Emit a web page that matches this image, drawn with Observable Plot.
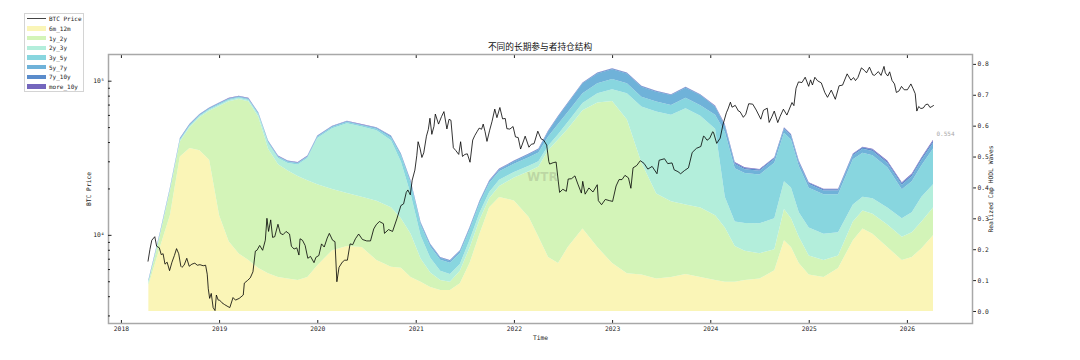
<!DOCTYPE html>
<html><head><meta charset="utf-8">
<script src="https://cdn.jsdelivr.net/npm/d3@7"></script>
<script src="https://cdn.jsdelivr.net/npm/@observablehq/plot@0.6"></script>
<style>
html,body{margin:0;padding:0;background:#fff;}
#wrap{position:relative;width:1080px;height:360px;overflow:hidden;background:#fff;}
#wrap svg{position:absolute;left:0;top:0;}
#title{position:absolute;left:0;width:1080px;top:40px;text-align:center;font:8.7px "Noto Sans CJK SC";color:#111;}
#legend{position:absolute;left:24px;top:13px;width:60px;height:79px;border:1px solid #d4d4d4;box-sizing:border-box;background:#fff;font:6px "DejaVu Sans Mono";color:#222;white-space:nowrap;}
.row{height:9.67px;display:flex;align-items:center;white-space:nowrap;}
.sw{width:19px;height:4.5px;margin-left:2px;margin-right:3px;flex:none;}
.ln{width:19px;height:0;border-top:1px solid #444;margin-left:2px;margin-right:3px;flex:none;}
#wm{position:absolute;left:527px;top:170px;font:bold 12px "DejaVu Sans";color:rgba(120,125,105,0.25);}
</style></head><body>
<div id="wrap">
  <div id="title"></div>
  <div id="wm">WTR</div>
  <div id="legend"></div>
</div>
<script>
// ---------- data ----------
const chartTitle = "不同的长期参与者持仓结构";
const layers = ["6m_12m","1y_2y","2y_3y","3y_5y","5y_7y","7y_10y","more_10y"];
const layerColors = ["#faf5b7","#d3f4b8","#b3eedb","#88d6df","#6fb2d9","#5a8ccb","#7466bd"];

const waveDates = [
"2018-04-13","2018-05-27","2018-07-02","2018-08-08","2018-09-13","2018-10-20","2018-11-25",
"2019-01-01","2019-02-06","2019-03-15","2019-04-20","2019-05-27","2019-07-02","2019-08-08","2019-09-13","2019-10-20","2019-11-25",
"2020-01-01","2020-02-25","2020-04-20","2020-06-14","2020-08-08","2020-10-01","2020-11-07","2020-12-13",
"2021-01-19","2021-02-24","2021-04-02","2021-05-08","2021-06-14","2021-07-20","2021-08-26","2021-10-01","2021-11-07",
"2022-01-01","2022-02-25","2022-04-02","2022-05-08","2022-06-14","2022-07-20","2022-09-13","2022-11-07",
"2023-01-01","2023-02-25","2023-04-20","2023-06-14","2023-08-08","2023-10-01","2023-11-25",
"2024-01-19","2024-02-24","2024-04-01","2024-05-08","2024-07-02","2024-08-26","2024-10-01","2024-10-27","2024-11-25",
"2025-01-01","2025-02-25","2025-04-20","2025-06-14","2025-07-20","2025-08-26","2025-10-20","2025-12-13",
"2026-01-19","2026-02-24","2026-04-08"];

const w6m12m = [
.083,.21,.31,.50,.528,.52,.49,
.31,.225,.186,.165,.139,.122,.11,.105,.10,.11,
.148,.197,.21,.207,.165,.143,.14,.11,
.095,.078,.068,.068,.09,.155,.25,.336,.369,
.358,.304,.24,.175,.155,.207,.267,.207,
.155,.122,.118,.105,.11,.12,.11,
.10,.095,.095,.10,.105,.132,.229,.207,.155,
.118,.11,.139,.229,.267,.25,.207,.165,
.175,.203,.245];
const w1y2y = [
.007,.039,.079,.049,.067,.107,.158,
.354,.454,.50,.514,.489,.403,.365,.35,.337,.313,
.262,.198,.172,.163,.192,.193,.16,.14,
.075,.047,.032,.027,.04,.05,.045,.029,.036,
.074,.148,.228,.345,.40,.383,.383,.468,
.525,.498,.362,.275,.245,.225,.225,
.21,.175,.115,.095,.082,.068,.101,.093,.085,
.062,.055,.041,.061,.058,.065,.073,.075,
.08,.087,.09];
const w2y3y = [
.004,.004,.004,.004,.004,.004,.004,
.004,.004,.004,.004,.007,.019,.02,.024,.037,.072,
.15,.197,.226,.227,.228,.217,.183,.129,
.074,.047,.03,.025,.022,.025,.023,.02,.02,
.018,.018,.017,.015,.017,.022,.023,.03,
.038,.085,.182,.266,.28,.311,.297,
.28,.10,.08,.09,.097,.10,.09,.10,.08,
.09,.085,.075,.055,.045,.05,.055,.06,
.065,.08,.075];
const w3y5y = [
.003,.003,.003,.003,.003,.003,.003,
.003,.003,.003,.003,.004,.004,.004,.004,.004,.004,
.004,.004,.004,.004,.005,.009,.02,.035,
.035,.037,.036,.036,.036,.033,.031,.029,.027,
.027,.028,.028,.03,.033,.032,.032,.032,
.033,.032,.032,.032,.032,.034,.034,
.045,.21,.172,.162,.158,.18,.157,.155,.149,
.129,.128,.123,.146,.142,.139,.13,.094,
.10,.102,.116];
const w5y7y = [
.002,.002,.002,.002,.002,.002,.002,
.002,.002,.002,.002,.002,.002,.002,.002,.002,.002,
.002,.002,.002,.002,.003,.004,.005,.006,
.006,.006,.006,.006,.006,.006,.006,.006,.006,
.007,.009,.01,.016,.024,.028,.032,.032,
.032,.032,.032,.032,.032,.033,.033,
.027,.02,.014,.012,.012,.012,.012,.012,.012,
.012,.012,.012,.013,.013,.014,.014,.015,
.016,.017,.018];
const w7y10y = [
.001,.001,.001,.001,.001,.001,.001,
.001,.001,.001,.001,.001,.001,.001,.001,.001,.001,
.001,.001,.001,.001,.001,.001,.001,.002,
.002,.002,.002,.002,.002,.002,.002,.002,.002,
.002,.002,.002,.002,.002,.002,.002,.002,
.002,.002,.002,.002,.002,.002,.002,
.002,.003,.004,.004,.004,.004,.004,.004,.004,
.004,.004,.004,.004,.005,.005,.005,.005,
.006,.006,.006];
const wMore10y = [
.001,.001,.001,.001,.001,.001,.001,
.001,.001,.001,.001,.001,.001,.001,.001,.001,.001,
.001,.001,.001,.001,.001,.001,.001,.001,
.001,.001,.001,.001,.001,.001,.001,.001,.001,
.001,.001,.001,.001,.001,.001,.001,.001,
.001,.001,.001,.001,.001,.001,.001,
.001,.002,.002,.002,.002,.002,.002,.002,.002,
.002,.002,.002,.002,.002,.002,.003,.003,
.003,.003,.004];

const priceDates = [
"2018-04-10","2018-04-17","2018-04-24","2018-05-05","2018-05-12","2018-05-22","2018-05-29","2018-06-05","2018-06-12","2018-06-20","2018-06-29","2018-07-08","2018-07-17","2018-07-25","2018-08-02","2018-08-10","2018-08-14","2018-08-22","2018-09-01","2018-09-10","2018-09-20","2018-10-01","2018-10-10","2018-10-20","2018-11-01","2018-11-10","2018-11-16","2018-11-20","2018-11-25","2018-12-01","2018-12-08","2018-12-15","2018-12-20","2018-12-27",
"2019-01-01","2019-01-10","2019-01-20","2019-02-01","2019-02-08","2019-02-20","2019-03-01","2019-03-15","2019-03-30","2019-04-03","2019-04-15","2019-04-25","2019-05-05","2019-05-14","2019-05-20","2019-05-30","2019-06-10","2019-06-20","2019-06-26","2019-07-02","2019-07-10","2019-07-17","2019-07-25","2019-08-06","2019-08-15","2019-08-25","2019-09-05","2019-09-18","2019-09-25","2019-10-05","2019-10-15","2019-10-23","2019-10-27","2019-11-05","2019-11-15","2019-11-25","2019-12-05","2019-12-18","2019-12-25",
"2020-01-05","2020-01-15","2020-01-25","2020-02-05","2020-02-13","2020-02-25","2020-03-05","2020-03-12","2020-03-20","2020-04-01","2020-04-10","2020-04-20","2020-04-30","2020-05-10","2020-05-20","2020-06-01","2020-06-15","2020-07-01","2020-07-15","2020-07-27","2020-08-05","2020-08-17","2020-09-01","2020-09-05","2020-09-20","2020-10-05","2020-10-21","2020-11-05","2020-11-15","2020-11-25","2020-12-01","2020-12-10","2020-12-17","2020-12-27",
"2021-01-03","2021-01-08","2021-01-15","2021-01-22","2021-01-29","2021-02-08","2021-02-15","2021-02-21","2021-02-28","2021-03-08","2021-03-13","2021-03-25","2021-04-05","2021-04-14","2021-04-25","2021-05-03","2021-05-10","2021-05-19","2021-05-28","2021-06-08","2021-06-15","2021-06-22","2021-07-01","2021-07-10","2021-07-20","2021-07-30","2021-08-07","2021-08-15","2021-08-23","2021-09-01","2021-09-07","2021-09-14","2021-09-21","2021-10-01","2021-10-10","2021-10-20","2021-10-28","2021-11-08","2021-11-18","2021-11-28","2021-12-04","2021-12-15","2021-12-27",
"2022-01-05","2022-01-15","2022-01-24","2022-02-05","2022-02-10","2022-02-24","2022-03-05","2022-03-15","2022-03-29","2022-04-10","2022-04-20","2022-05-01","2022-05-09","2022-05-12","2022-05-25","2022-06-05","2022-06-13","2022-06-18","2022-06-30","2022-07-13","2022-07-20","2022-08-01","2022-08-14","2022-08-25","2022-09-07","2022-09-12","2022-09-21","2022-10-05","2022-10-20","2022-11-05","2022-11-09","2022-11-21","2022-12-05","2022-12-20",
"2023-01-01","2023-01-14","2023-01-25","2023-02-05","2023-02-16","2023-03-01","2023-03-10","2023-03-18","2023-04-01","2023-04-14","2023-04-28","2023-05-12","2023-05-28","2023-06-15","2023-06-23","2023-07-13","2023-07-25","2023-08-10","2023-08-18","2023-09-01","2023-09-11","2023-09-25","2023-10-10","2023-10-24","2023-11-09","2023-11-25","2023-12-05","2023-12-08","2023-12-18","2023-12-28",
"2024-01-08","2024-01-11","2024-01-23","2024-02-05","2024-02-15","2024-02-28","2024-03-05","2024-03-14","2024-03-20","2024-04-01","2024-04-13","2024-04-19","2024-05-01","2024-05-10","2024-05-21","2024-06-05","2024-06-18","2024-07-05","2024-07-15","2024-07-29","2024-08-05","2024-08-15","2024-08-24","2024-09-06","2024-09-15","2024-09-27","2024-10-10","2024-10-29","2024-11-05","2024-11-13","2024-11-22","2024-12-05","2024-12-17","2024-12-30",
"2025-01-06","2025-01-13","2025-01-22","2025-02-01","2025-02-15","2025-02-28","2025-03-10","2025-03-24","2025-04-08","2025-04-22","2025-05-05","2025-05-22","2025-06-05","2025-06-15","2025-06-22","2025-07-01","2025-07-14","2025-07-25","2025-08-02","2025-08-13","2025-08-25","2025-09-01","2025-09-15","2025-09-25","2025-10-06","2025-10-11","2025-10-20","2025-10-27","2025-11-05","2025-11-14","2025-11-21","2025-12-01","2025-12-10","2025-12-20",
"2026-01-01","2026-01-14","2026-01-22","2026-01-30","2026-02-05","2026-02-12","2026-02-20","2026-03-01","2026-03-10","2026-03-18","2026-03-26","2026-04-02","2026-04-08"];
const priceValues = [
6800,8100,9300,9800,8500,8300,7500,7600,6500,6700,5900,6700,7400,8200,7600,6300,6200,6400,7100,6300,6500,6600,6400,6450,6350,6400,5600,4500,3900,4200,3400,3250,4100,3800,
3800,3650,3550,3450,3400,3950,3800,3900,4100,4900,5100,5300,5800,7900,8000,8600,8000,9300,12900,10600,12600,9700,9800,11800,10300,10100,10600,10200,8500,8150,8300,7450,9500,9300,8600,7100,7300,6650,7200,
7400,8800,8400,9600,10300,9300,9100,5000,6200,6700,6900,6900,8800,8700,9500,10200,9400,9200,9200,11000,11700,12300,11900,10300,10900,10600,12800,15600,16000,19000,19700,18300,22800,26500,
32800,40500,36800,32000,34300,44000,48700,57500,45200,51000,61200,52700,58900,63500,49000,56600,55800,37000,35500,33500,40500,32500,33500,33800,29800,41500,44500,47000,49600,48800,52700,47000,40700,48100,55000,65900,58000,67500,57000,57300,49200,48900,50800,
43500,43100,36300,41500,44000,37300,39000,39300,47400,42300,41400,38500,30100,29000,29600,29900,22500,19000,19900,19300,23200,23300,24300,21500,18800,22400,18500,20300,19100,21300,16800,15800,17100,16800,
16600,20900,23000,23000,24500,23600,20200,27400,28400,30500,29300,26900,28000,25100,30700,31400,29200,29500,26600,25900,25100,26300,27400,34500,36700,37700,44000,43800,41400,42600,
47000,46600,39500,42700,52000,62400,66000,73100,67800,69700,64000,63400,58300,61000,71400,71000,65000,56700,64800,66800,54000,58700,64000,53900,59200,65800,60300,72700,69400,90000,98900,98000,106100,92600,
102000,94500,106000,100600,97500,84400,78600,87500,76300,93400,94300,111600,101500,105500,100900,105700,122000,117600,113300,123300,110100,109200,115400,109000,124700,113200,108000,115000,101000,96000,84500,86500,92500,88000,
88000,96000,89500,83000,64000,68500,66500,67000,70500,71000,67500,68500,69500];

const xDomain = ["2017-11-14","2026-08-31"];
const xTicks = ["2018-01-01","2019-01-01","2020-01-01","2021-01-01","2022-01-01","2023-01-01","2024-01-01","2025-01-01","2026-01-01"];
const xTickLabels = ["2018","2019","2020","2021","2022","2023","2024","2025","2026"];
const rightDomain = [-0.0389, 0.832];
const rightTicks = [0,0.1,0.2,0.3,0.4,0.5,0.6,0.7,0.8];
const rightTickLabels = ["0.0","0.1","0.2","0.3","0.4","0.5","0.6","0.7","0.8"];
const leftDomain = [2680, 149000];
const leftMajor = [1e4, 1e5];
const leftTickLabels = ["10\u2074","10\u2075"];
const leftMinor = [3000,4000,5000,6000,7000,8000,9000,20000,30000,40000,50000,60000,70000,80000,90000];
const xLabel = "Time", leftLabel = "BTC Price", rightLabel = "Realized Cap HODL Waves";

// ---------- build ----------
const layerValues = [w6m12m,w1y2y,w2y3y,w3y5y,w5y7y,w7y10y,wMore10y];
layerValues.forEach((a,i)=>{ if(a.length!==waveDates.length) throw new Error("layer "+layers[i]+" has "+a.length+" vs "+waveDates.length); });
if (priceDates.length!==priceValues.length) throw new Error("price "+priceDates.length+" vs "+priceValues.length);

const waves = layers.flatMap((layer,i)=>waveDates.map((d,j)=>({date:new Date(d), layer, value:layerValues[i][j]})));
const prices = priceDates.map((d,i)=>({date:new Date(d), price:priceValues[i]}));
const lastIdx = waveDates.length-1;
const endLabel = [{date:new Date(waveDates[lastIdx]), value: d3.sum(layerValues, a=>a[lastIdx])}];
const xTickDates = xTicks.map(d=>new Date(d));
const xFmt = d => xTickLabels[xTickDates.findIndex(t=>+t===+d)];

const common = {width:1080, height:360, marginLeft:108, marginRight:108, marginTop:54, marginBottom:37};
const fontStyle = {background:"transparent", fontFamily:"DejaVu Sans Mono", fontSize:"6.3px", color:"#222", overflow:"visible"};

const p1 = Plot.plot({
  ...common,
  style: fontStyle,
  x: {type:"utc", domain: xDomain.map(d=>new Date(d))},
  y: {domain: rightDomain},
  color: {domain: layers, range: layerColors},
  marks: [
    Plot.areaY(waves, {x:"date", y:"value", fill:"layer", curve:"linear"}),
    Plot.text(endLabel, {x:"date", y:"value", text: d=>d3.format(".3f")(d.value), dx:3, dy:-6, textAnchor:"start", fill:"#a8a8a8", fontSize:6}),
    Plot.axisY(rightTicks, {anchor:"right", tickSize:3, tickPadding:2, tickFormat: d=>rightTickLabels[rightTicks.indexOf(d)], label: rightLabel, labelAnchor:"center", labelOffset:20, labelArrow:"none"}),
    Plot.axisX(xTickDates, {anchor:"bottom", tickSize:-3, tickPadding:6, tickFormat: xFmt, label: xLabel, labelAnchor:"center", labelOffset:16, labelArrow:"none"}),
    Plot.axisX(xTickDates, {anchor:"top", tickSize:-3, tickFormat: ()=>"", label:null}),
    Plot.frame({stroke:"#a8a8a8", strokeWidth:1.5})
  ]
});

const p2 = Plot.plot({
  ...common,
  style: fontStyle,
  x: {type:"utc", domain: xDomain.map(d=>new Date(d)), axis:null},
  y: {type:"log", domain: leftDomain},
  marks: [
    Plot.lineY(prices, {x:"date", y:"price", stroke:"#000", strokeWidth:0.8}),
    Plot.axisY(leftMajor, {anchor:"left", tickSize:-3.5, tickPadding:7.5, tickFormat: d=>leftTickLabels[leftMajor.indexOf(d)], label: leftLabel, labelAnchor:"center", labelOffset:22, labelArrow:"none"}),
    Plot.axisY(leftMinor, {anchor:"left", tickSize:-2, tickFormat: ()=>"", label:null})
  ]
});

const wrap = document.getElementById("wrap");
wrap.insertBefore(p1, wrap.firstChild);
wrap.insertBefore(p2, document.getElementById("legend"));
document.getElementById("title").textContent = chartTitle;

const lg = document.getElementById("legend");
let html = `<div class="row"><span class="ln"></span>BTC Price</div>`;
layers.forEach((l,i)=>{ html += `<div class="row"><span class="sw" style="background:${layerColors[i]}"></span>${l}</div>`; });
lg.innerHTML = html;
</script>
</body></html>
